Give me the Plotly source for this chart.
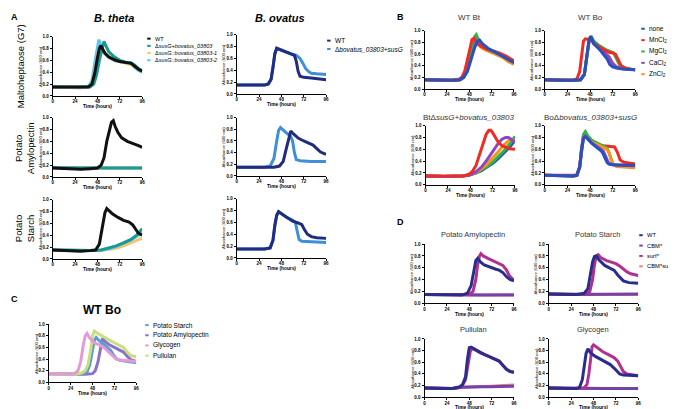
import plotly.graph_objects as go

W, H = 676, 409
FONT = "Liberation Sans, Arial, sans-serif"

# ---------------- colours ----------------
C_BLACK = "#111111"
C_TEAL = "#1a9a96"
C_LORANGE = "#f6c46e"
C_LBLUE = "#5cc6f0"
C_NAVY = "#1f2c80"
C_MBLUE = "#3f8fd8"
C_NONE = "#2a50c0"
C_MN = "#ee2b24"
C_MG = "#2db34a"
C_CA = "#8d45c6"
C_ZN = "#f7941d"
C_PS = "#5e9bd6"
C_PA = "#8a72c9"
C_GLY = "#e39bd5"
C_PUL = "#c8e07a"
C_DWT = "#2b2d8c"
C_CBM = "#7442a8"
C_SURF = "#b2318f"
C_CBMS = "#f07c7c"

# ---------------- data: panel A, B. theta ----------------
a1_lb_t = [0, 20, 30, 38, 42, 45, 48, 49.5, 51, 54, 60, 68, 76, 84, 88, 92, 96]
a1_lb_y = [0.15, 0.14, 0.14, 0.16, 0.25, 0.55, 0.85, 0.95, 0.88, 0.75, 0.65, 0.59, 0.57, 0.55, 0.48, 0.43, 0.40]
a1_or_t = [0, 20, 30, 40, 43, 46, 49, 51, 53, 56, 62, 70, 78, 86, 92, 96]
a1_or_y = [0.15, 0.14, 0.14, 0.16, 0.25, 0.50, 0.75, 0.83, 0.80, 0.73, 0.64, 0.59, 0.56, 0.52, 0.46, 0.43]
a1_te_t = [0, 10, 20, 30, 40, 44, 47, 50, 53, 55, 57, 60, 66, 72, 78, 84, 88, 92, 96]
a1_te_y = [0.15, 0.15, 0.14, 0.14, 0.15, 0.20, 0.35, 0.60, 0.82, 0.92, 0.85, 0.75, 0.66, 0.60, 0.57, 0.56, 0.52, 0.46, 0.42]
a1_wt_t = [0, 10, 20, 30, 38, 42, 45, 48, 50, 51.5, 53, 56, 60, 66, 72, 78, 84, 88, 92, 96]
a1_wt_y = [0.15, 0.15, 0.14, 0.14, 0.15, 0.20, 0.38, 0.65, 0.80, 0.85, 0.80, 0.72, 0.66, 0.61, 0.58, 0.56, 0.55, 0.50, 0.45, 0.42]

a2_flat_t = [0, 20, 48, 72, 96]
a2_lb_y = [0.16, 0.15, 0.15, 0.15, 0.15]
a2_or_y = [0.15, 0.15, 0.15, 0.15, 0.15]
a2_te_y = [0.155, 0.15, 0.15, 0.15, 0.15]
a2_wt_t = [0, 10, 20, 30, 40, 48, 52, 55, 58, 61, 63, 65, 67, 70, 74, 80, 86, 92, 96]
a2_wt_y = [0.15, 0.14, 0.14, 0.13, 0.14, 0.15, 0.20, 0.32, 0.60, 0.82, 0.92, 0.95, 0.85, 0.75, 0.66, 0.60, 0.57, 0.53, 0.50]

a3_s_t = [0, 20, 40, 52, 60, 68, 76, 84, 90, 96]
a3_or_y = [0.15, 0.14, 0.14, 0.14, 0.16, 0.18, 0.22, 0.27, 0.31, 0.35]
a3_lb_y = [0.15, 0.14, 0.14, 0.15, 0.17, 0.21, 0.26, 0.32, 0.38, 0.44]
a3_te_y = [0.15, 0.14, 0.14, 0.15, 0.18, 0.22, 0.27, 0.33, 0.40, 0.51]
a3_wt_t = [0, 10, 20, 30, 40, 46, 50, 53, 56, 58, 60, 64, 70, 76, 82, 86, 89, 92, 96]
a3_wt_y = [0.15, 0.14, 0.14, 0.13, 0.14, 0.15, 0.25, 0.50, 0.78, 0.85, 0.82, 0.76, 0.70, 0.65, 0.62, 0.57, 0.50, 0.43, 0.40]

# ---------------- data: panel A, B. ovatus ----------------
a4_mu_t = [0, 10, 20, 30, 34, 37, 39, 41, 43, 46, 52, 58, 64, 68, 71, 74, 77, 80, 86, 96]
a4_mu_y = [0.15, 0.15, 0.15, 0.15, 0.17, 0.25, 0.45, 0.68, 0.77, 0.75, 0.72, 0.68, 0.65, 0.60, 0.52, 0.43, 0.38, 0.35, 0.34, 0.33]
a4_wt_t = [0, 10, 20, 30, 34, 37, 39, 41, 43, 46, 52, 58, 62, 64, 66, 68, 72, 80, 88, 96]
a4_wt_y = [0.15, 0.15, 0.15, 0.15, 0.17, 0.25, 0.45, 0.68, 0.77, 0.75, 0.72, 0.68, 0.65, 0.55, 0.38, 0.30, 0.28, 0.27, 0.25, 0.24]

a5_mu_t = [0, 10, 20, 30, 36, 40, 43, 45, 47, 50, 54, 58, 60, 62, 64, 68, 80, 96]
a5_mu_y = [0.15, 0.15, 0.15, 0.15, 0.17, 0.30, 0.60, 0.78, 0.83, 0.78, 0.73, 0.68, 0.60, 0.40, 0.28, 0.26, 0.25, 0.25]
a5_wt_t = [0, 10, 20, 30, 40, 46, 50, 53, 56, 58, 61, 66, 72, 78, 82, 86, 90, 96]
a5_wt_y = [0.15, 0.15, 0.15, 0.15, 0.15, 0.17, 0.25, 0.45, 0.68, 0.77, 0.72, 0.65, 0.60, 0.56, 0.53, 0.47, 0.41, 0.37]

a6_mu_t = [0, 10, 20, 30, 36, 39, 41, 43, 45, 48, 54, 60, 63, 65, 67, 70, 80, 96]
a6_mu_y = [0.15, 0.15, 0.15, 0.15, 0.17, 0.30, 0.55, 0.72, 0.78, 0.75, 0.68, 0.64, 0.60, 0.45, 0.31, 0.28, 0.27, 0.26]
a6_wt_t = [0, 10, 20, 30, 36, 39, 41, 43, 45, 48, 54, 60, 66, 70, 73, 76, 80, 86, 96]
a6_wt_y = [0.15, 0.15, 0.15, 0.15, 0.17, 0.30, 0.55, 0.72, 0.78, 0.75, 0.68, 0.62, 0.59, 0.56, 0.47, 0.40, 0.36, 0.34, 0.33]

# ---------------- data: panel B ----------------
b1_zn_t = [0, 20, 30, 38, 42, 45, 48, 51, 54, 57, 62, 68, 76, 84, 90, 96]
b1_zn_y = [0.16, 0.15, 0.15, 0.16, 0.22, 0.35, 0.55, 0.75, 0.80, 0.77, 0.70, 0.65, 0.60, 0.54, 0.47, 0.42]
b1_ca_t = [0, 20, 30, 38, 42, 46, 50, 53, 56, 58, 62, 68, 76, 84, 90, 96]
b1_ca_y = [0.16, 0.15, 0.15, 0.16, 0.20, 0.35, 0.60, 0.78, 0.84, 0.82, 0.75, 0.69, 0.63, 0.57, 0.52, 0.48]
b1_mg_t = [0, 10, 20, 30, 38, 42, 45, 48, 51, 54, 55.5, 58, 62, 68, 74, 80, 88, 96]
b1_mg_y = [0.16, 0.15, 0.15, 0.15, 0.16, 0.20, 0.30, 0.50, 0.75, 0.90, 0.93, 0.83, 0.74, 0.68, 0.64, 0.61, 0.55, 0.47]
b1_mn_t = [0, 10, 20, 30, 36, 40, 43, 46, 49, 51, 53, 56, 60, 66, 72, 80, 88, 96]
b1_mn_y = [0.16, 0.15, 0.15, 0.15, 0.16, 0.20, 0.30, 0.50, 0.75, 0.85, 0.87, 0.80, 0.74, 0.69, 0.66, 0.62, 0.56, 0.48]
b1_no_t = [0, 20, 30, 38, 42, 46, 50, 54, 57, 59, 62, 68, 76, 84, 90, 96]
b1_no_y = [0.16, 0.15, 0.15, 0.16, 0.20, 0.30, 0.50, 0.72, 0.82, 0.84, 0.78, 0.70, 0.63, 0.56, 0.50, 0.45]

b2_zn_t = [0, 20, 30, 38, 42, 45, 47, 49, 52, 58, 64, 68, 72, 76, 80, 88, 96]
b2_zn_y = [0.16, 0.15, 0.15, 0.16, 0.25, 0.60, 0.82, 0.86, 0.78, 0.70, 0.62, 0.56, 0.45, 0.38, 0.36, 0.34, 0.33]
b2_ca_t = [0, 20, 30, 38, 42, 45, 47, 49, 52, 58, 64, 68, 72, 76, 80, 88, 96]
b2_ca_y = [0.16, 0.15, 0.15, 0.16, 0.25, 0.60, 0.82, 0.88, 0.78, 0.70, 0.61, 0.55, 0.43, 0.38, 0.36, 0.34, 0.33]
b2_mg_t = [0, 10, 20, 30, 38, 42, 45, 47, 49, 52, 58, 64, 70, 73, 76, 79, 84, 90, 96]
b2_mg_y = [0.16, 0.15, 0.15, 0.15, 0.16, 0.25, 0.60, 0.85, 0.91, 0.82, 0.74, 0.68, 0.64, 0.62, 0.52, 0.42, 0.37, 0.34, 0.33]
b2_mn_t = [0, 10, 20, 30, 34, 37, 39, 41, 43, 46, 48, 52, 58, 64, 68, 72, 75, 78, 81, 85, 90, 96]
b2_mn_y = [0.16, 0.15, 0.15, 0.15, 0.17, 0.30, 0.60, 0.82, 0.86, 0.85, 0.88, 0.78, 0.72, 0.66, 0.63, 0.62, 0.60, 0.50, 0.40, 0.36, 0.34, 0.33]
b2_no_t = [0, 10, 20, 30, 38, 42, 45, 47, 49, 52, 58, 62, 66, 69, 72, 76, 84, 96]
b2_no_y = [0.16, 0.15, 0.15, 0.15, 0.16, 0.25, 0.60, 0.85, 0.90, 0.78, 0.68, 0.60, 0.52, 0.42, 0.38, 0.36, 0.34, 0.33]

b3_mn_t = [0, 10, 20, 30, 40, 46, 50, 54, 58, 62, 65, 68, 70, 72, 75, 78, 82, 86, 90, 96]
b3_mn_y = [0.15, 0.15, 0.14, 0.14, 0.15, 0.17, 0.22, 0.32, 0.50, 0.70, 0.85, 0.92, 0.92, 0.88, 0.80, 0.72, 0.66, 0.63, 0.61, 0.60]
b3_ca_t = [0, 20, 40, 48, 54, 60, 66, 72, 78, 82, 86, 89, 92, 96]
b3_ca_y = [0.15, 0.14, 0.15, 0.17, 0.22, 0.30, 0.42, 0.56, 0.70, 0.77, 0.80, 0.80, 0.77, 0.72]
b3_zn_t = [0, 20, 40, 48, 54, 60, 66, 72, 78, 84, 88, 92, 96]
b3_zn_y = [0.15, 0.14, 0.15, 0.17, 0.21, 0.27, 0.35, 0.45, 0.56, 0.67, 0.73, 0.77, 0.74]
b3_s_t = [0, 20, 40, 48, 54, 60, 66, 72, 78, 84, 90, 96]
b3_mg_y = [0.15, 0.14, 0.15, 0.17, 0.20, 0.25, 0.31, 0.38, 0.47, 0.57, 0.68, 0.82]
b3_no_y = [0.15, 0.14, 0.15, 0.17, 0.20, 0.24, 0.30, 0.36, 0.44, 0.53, 0.63, 0.75]

b4_mn_t = [0, 10, 20, 30, 34, 37, 39, 41, 43, 46, 50, 56, 62, 66, 70, 74, 77, 80, 84, 90, 96]
b4_mn_y = [0.16, 0.16, 0.15, 0.15, 0.16, 0.30, 0.60, 0.80, 0.83, 0.77, 0.72, 0.68, 0.66, 0.65, 0.65, 0.64, 0.55, 0.42, 0.38, 0.36, 0.35]
b4_mg_t = [0, 20, 30, 34, 37, 39, 41, 43, 46, 50, 56, 62, 66, 68, 70, 72, 76, 84, 96]
b4_mg_y = [0.16, 0.15, 0.15, 0.16, 0.30, 0.62, 0.85, 0.90, 0.82, 0.75, 0.70, 0.66, 0.62, 0.55, 0.45, 0.36, 0.33, 0.31, 0.30]
b4_zn_t = [0, 20, 30, 34, 37, 39, 41, 43, 46, 50, 56, 62, 66, 68, 70, 72, 76, 84, 96]
b4_zn_y = [0.16, 0.15, 0.15, 0.16, 0.30, 0.60, 0.80, 0.83, 0.77, 0.72, 0.67, 0.63, 0.60, 0.55, 0.45, 0.35, 0.31, 0.30, 0.29]
b4_ca_t = [0, 20, 30, 34, 37, 39, 41, 43, 46, 50, 56, 62, 64, 66, 68, 72, 84, 96]
b4_ca_y = [0.16, 0.15, 0.15, 0.16, 0.30, 0.60, 0.80, 0.82, 0.76, 0.70, 0.64, 0.57, 0.50, 0.42, 0.36, 0.34, 0.33, 0.32]
b4_no_t = [0, 20, 30, 34, 37, 39, 41, 43, 46, 50, 56, 60, 62, 64, 66, 68, 72, 84, 96]
b4_no_y = [0.16, 0.15, 0.15, 0.16, 0.30, 0.58, 0.78, 0.82, 0.76, 0.70, 0.62, 0.57, 0.52, 0.45, 0.38, 0.35, 0.34, 0.33, 0.33]

# ---------------- data: panel C ----------------
c_gly_t = [0, 10, 20, 28, 32, 35, 38, 40, 42, 45, 50, 56, 62, 66, 70, 74, 80, 88, 96]
c_gly_y = [0.15, 0.15, 0.14, 0.15, 0.20, 0.35, 0.65, 0.80, 0.84, 0.76, 0.68, 0.64, 0.58, 0.52, 0.45, 0.40, 0.38, 0.37, 0.36]
c_pul_t = [0, 20, 30, 36, 40, 43, 46, 48, 50, 54, 60, 66, 72, 78, 82, 86, 90, 96]
c_pul_y = [0.15, 0.14, 0.14, 0.16, 0.20, 0.30, 0.55, 0.80, 0.88, 0.84, 0.78, 0.73, 0.68, 0.64, 0.60, 0.52, 0.46, 0.44]
c_ps_t = [0, 20, 30, 38, 42, 45, 48, 50, 52, 55, 60, 65, 68, 71, 74, 78, 84, 90, 96]
c_ps_y = [0.15, 0.14, 0.14, 0.15, 0.18, 0.30, 0.55, 0.72, 0.77, 0.72, 0.66, 0.60, 0.55, 0.47, 0.41, 0.38, 0.36, 0.35, 0.34]
c_pa_t = [0, 20, 30, 40, 48, 51, 54, 57, 59, 62, 66, 72, 78, 82, 86, 90, 96]
c_pa_y = [0.15, 0.14, 0.14, 0.14, 0.15, 0.20, 0.35, 0.60, 0.76, 0.70, 0.65, 0.60, 0.56, 0.52, 0.45, 0.39, 0.36]

# ---------------- data: panel D ----------------
d_flat_t = [0, 30, 60, 96]
d1_cbm_y = [0.15, 0.14, 0.14, 0.14]
d1_cbms_y = [0.15, 0.14, 0.14, 0.145]
d1_surf_t = [0, 20, 40, 48, 52, 55, 57, 59, 60.5, 63, 68, 74, 80, 84, 88, 91, 94, 96]
d1_surf_y = [0.15, 0.15, 0.14, 0.15, 0.20, 0.40, 0.65, 0.80, 0.84, 0.80, 0.76, 0.72, 0.68, 0.64, 0.56, 0.47, 0.42, 0.40]
d1_wt_t = [0, 10, 20, 30, 40, 46, 50, 53, 55, 57, 60, 64, 70, 76, 80, 84, 88, 92, 96]
d1_wt_y = [0.15, 0.15, 0.15, 0.14, 0.14, 0.17, 0.30, 0.55, 0.72, 0.76, 0.70, 0.65, 0.61, 0.58, 0.56, 0.52, 0.45, 0.40, 0.38]

d2_cbm_y = [0.16, 0.15, 0.155, 0.16]
d2_cbms_y = [0.16, 0.15, 0.15, 0.15]
d2_surf_t = [0, 20, 38, 44, 47, 49, 51, 53, 56, 62, 68, 72, 76, 80, 84, 88, 92, 96]
d2_surf_y = [0.16, 0.15, 0.15, 0.20, 0.40, 0.65, 0.80, 0.82, 0.77, 0.72, 0.69, 0.67, 0.63, 0.58, 0.53, 0.50, 0.48, 0.47]
d2_wt_t = [0, 10, 20, 30, 38, 42, 45, 47, 49, 51, 54, 60, 66, 70, 74, 77, 80, 86, 96]
d2_wt_y = [0.16, 0.15, 0.15, 0.15, 0.17, 0.25, 0.50, 0.70, 0.79, 0.80, 0.73, 0.64, 0.59, 0.56, 0.48, 0.42, 0.38, 0.35, 0.34]

d3_c_t = [0, 20, 30, 40, 50, 60, 72, 84, 96]
d3_cbm_y = [0.16, 0.15, 0.15, 0.17, 0.18, 0.18, 0.18, 0.18, 0.19]
d3_cbms_y = [0.16, 0.15, 0.15, 0.17, 0.18, 0.19, 0.19, 0.20, 0.21]
d3_surf_t = [0, 20, 30, 36, 40, 44, 47, 49, 51, 54, 60, 66, 72, 76, 80, 84, 88, 92, 96]
d3_surf_y = [0.16, 0.15, 0.15, 0.16, 0.19, 0.30, 0.55, 0.78, 0.84, 0.81, 0.76, 0.72, 0.68, 0.65, 0.62, 0.55, 0.48, 0.44, 0.43]
d3_wt_t = [0, 10, 20, 30, 34, 38, 41, 44, 46, 48, 50, 54, 60, 66, 72, 76, 80, 84, 88, 92, 96]
d3_wt_y = [0.16, 0.15, 0.15, 0.15, 0.16, 0.18, 0.22, 0.35, 0.65, 0.85, 0.86, 0.82, 0.77, 0.72, 0.68, 0.65, 0.62, 0.55, 0.48, 0.44, 0.43]

d4_cbm_y = [0.16, 0.15, 0.15, 0.15]
d4_cbms_y = [0.16, 0.15, 0.15, 0.15]
d4_surf_t = [0, 20, 30, 38, 41, 43, 45, 46.5, 48, 52, 58, 64, 70, 74, 77, 80, 84, 90, 96]
d4_surf_y = [0.16, 0.15, 0.15, 0.16, 0.22, 0.40, 0.70, 0.87, 0.90, 0.85, 0.78, 0.73, 0.68, 0.62, 0.52, 0.44, 0.40, 0.38, 0.37]
d4_wt_t = [0, 10, 20, 30, 33, 36, 38, 40, 42, 45, 50, 56, 62, 66, 70, 73, 76, 80, 88, 96]
d4_wt_y = [0.16, 0.15, 0.15, 0.15, 0.17, 0.30, 0.55, 0.75, 0.83, 0.76, 0.70, 0.65, 0.60, 0.56, 0.50, 0.44, 0.40, 0.38, 0.37, 0.37]

# tick labels
x_ticks = [0, 24, 48, 72, 96]
y_ticks = [0.0, 0.2, 0.4, 0.6, 0.8, 1.0]

# ---------------- layout geometry (pixels) ----------------
# panel: (left, right, top(=1.0), bottom(=0.0))
panels = {
    1: (44, 134, 27, 87), 2: (44, 134, 109, 169), 3: (44, 134, 192, 252),
    4: (229, 319, 25, 85), 5: (229, 319, 109, 168), 6: (229, 319, 191, 251),
    7: (418, 508, 21, 80), 8: (539, 630, 21, 80),
    9: (419, 509, 117, 177), 10: (539, 630, 117, 177),
    11: (40, 128, 318, 377),
    12: (418, 508, 237, 297), 13: (543, 633, 237, 297),
    14: (418, 508, 333, 392), 15: (543, 633, 333, 392),
}

traces = {
    1: [(a1_lb_t, a1_lb_y, C_LBLUE), (a1_or_t, a1_or_y, C_LORANGE), (a1_te_t, a1_te_y, C_TEAL), (a1_wt_t, a1_wt_y, C_BLACK)],
    2: [(a2_flat_t, a2_lb_y, C_LBLUE), (a2_flat_t, a2_or_y, C_LORANGE), (a2_flat_t, a2_te_y, C_TEAL), (a2_wt_t, a2_wt_y, C_BLACK)],
    3: [(a3_s_t, a3_or_y, C_LORANGE), (a3_s_t, a3_lb_y, C_LBLUE), (a3_s_t, a3_te_y, C_TEAL), (a3_wt_t, a3_wt_y, C_BLACK)],
    4: [(a4_mu_t, a4_mu_y, C_MBLUE), (a4_wt_t, a4_wt_y, C_NAVY)],
    5: [(a5_mu_t, a5_mu_y, C_MBLUE), (a5_wt_t, a5_wt_y, C_NAVY)],
    6: [(a6_mu_t, a6_mu_y, C_MBLUE), (a6_wt_t, a6_wt_y, C_NAVY)],
    7: [(b1_zn_t, b1_zn_y, C_ZN), (b1_ca_t, b1_ca_y, C_CA), (b1_mg_t, b1_mg_y, C_MG), (b1_mn_t, b1_mn_y, C_MN), (b1_no_t, b1_no_y, C_NONE)],
    8: [(b2_zn_t, b2_zn_y, C_ZN), (b2_ca_t, b2_ca_y, C_CA), (b2_mg_t, b2_mg_y, C_MG), (b2_mn_t, b2_mn_y, C_MN), (b2_no_t, b2_no_y, C_NONE)],
    9: [(b3_s_t, b3_no_y, C_NONE), (b3_s_t, b3_mg_y, C_MG), (b3_zn_t, b3_zn_y, C_ZN), (b3_ca_t, b3_ca_y, C_CA), (b3_mn_t, b3_mn_y, C_MN)],
    10: [(b4_mn_t, b4_mn_y, C_MN), (b4_mg_t, b4_mg_y, C_MG), (b4_zn_t, b4_zn_y, C_ZN), (b4_ca_t, b4_ca_y, C_CA), (b4_no_t, b4_no_y, C_NONE)],
    11: [(c_pa_t, c_pa_y, C_PA), (c_ps_t, c_ps_y, C_PS), (c_pul_t, c_pul_y, C_PUL), (c_gly_t, c_gly_y, C_GLY)],
    12: [(d_flat_t, d1_cbms_y, C_CBMS), (d_flat_t, d1_cbm_y, C_CBM), (d1_surf_t, d1_surf_y, C_SURF), (d1_wt_t, d1_wt_y, C_DWT)],
    13: [(d_flat_t, d2_cbms_y, C_CBMS), (d_flat_t, d2_cbm_y, C_CBM), (d2_surf_t, d2_surf_y, C_SURF), (d2_wt_t, d2_wt_y, C_DWT)],
    14: [(d3_c_t, d3_cbms_y, C_CBMS), (d3_c_t, d3_cbm_y, C_CBM), (d3_surf_t, d3_surf_y, C_SURF), (d3_wt_t, d3_wt_y, C_DWT)],
    15: [(d_flat_t, d4_cbms_y, C_CBMS), (d_flat_t, d4_cbm_y, C_CBM), (d4_surf_t, d4_surf_y, C_SURF), (d4_wt_t, d4_wt_y, C_DWT)],
}


def X(px):
    return px / W


def Y(py):
    return 1 - py / H


ann = []
shapes = []


def text(x, y, s, size, bold=False, italic=False, color="black", angle=0, xanchor="center", yanchor="middle"):
    ann.append(dict(x=X(x), y=Y(y), xref="paper", yref="paper", text=s, showarrow=False,
                    xanchor=xanchor, yanchor=yanchor, textangle=angle, borderpad=0,
                    font=dict(size=size, family=FONT, color=color,
                              weight="bold" if bold else "normal",
                              style="italic" if italic else "normal")))


fig = go.Figure()
layout = {}
for i, (l, r, t, b) in panels.items():
    sfx = "" if i == 1 else str(i)
    for tx, ty, col in traces[i]:
        fig.add_trace(go.Scatter(x=tx, y=ty, mode="lines", xaxis="x" + sfx, yaxis="y" + sfx,
                                 line=dict(color=col, width=3), hoverinfo="skip", showlegend=False))
    layout["xaxis" + sfx] = dict(
        domain=[X(l), X(r)], anchor="y" + sfx, range=[0, 96], tickvals=x_ticks,
        showline=True, linecolor="black", linewidth=1, ticks="outside", ticklen=2, tickwidth=0.8,
        tickcolor="black", showgrid=False, zeroline=False, ticklabelstandoff=-1,
        tickfont=dict(size=4.5, family=FONT, color="black", weight="bold"),
    )
    layout["yaxis" + sfx] = dict(
        domain=[Y(b), Y(t)], anchor="x" + sfx, range=[0, 1.0], tickvals=y_ticks, tickformat=".1f",
        showline=True, linecolor="black", linewidth=1, ticks="outside", ticklen=2, tickwidth=0.8,
        tickcolor="black", showgrid=False, zeroline=False,
        tickfont=dict(size=4.5, family=FONT, color="black", weight="bold"),
    )
    # axis titles
    text((l + r) / 2, min(b + 11, 402), "Time (hours)", 4.8, bold=True)
    text(l - 13, (t + b) / 2, "Absorbance (600 nm)", 4.2, angle=-90)


def legend(x, y0, dy, items, size):
    for k, (lab, col) in enumerate(items):
        yy = y0 + k * dy
        shapes.append(dict(type="line", xref="paper", yref="paper", x0=X(x), x1=X(x + 3.5),
                           y0=Y(yy), y1=Y(yy), line=dict(color=col, width=2)))
        text(x + 6.5, yy, lab, size, xanchor="left")


# panel letters & headings
text(6, 7, "A", 9, bold=True)
text(394, 7, "B", 9, bold=True)
text(6, 293, "C", 9, bold=True)
text(394, 215, "D", 9, bold=True)
text(106, 8, "B. theta", 11, bold=True, italic=True)
text(273, 8, "B. ovatus", 11, bold=True, italic=True)
text(11, 57, "Maltoheptaose (G7)", 9.5, angle=-90)
text(15, 140, "Potato<br>Amylopectin", 9.5, angle=-90)
text(15, 221, "Potato<br>Starch", 9.5, angle=-90)

# panel B titles
text(463, 8, "WT Bt", 8, color="#333333")
text(585, 8, "WT Bo", 8, color="#333333")
text(463, 109, "Bt\u0394<i>susG+bovatus_03803</i>", 8, color="#333333")
text(585, 109, "Bo\u0394<i>bovatus_03803+susG</i>", 8, color="#333333")

# panel C title
text(94, 304, "WT Bo", 12, bold=True)

# panel D titles
text(467, 227, "Potato Amylopectin", 7.5, color="#333333")
text(592, 227, "Potato Starch", 7.5, color="#333333")
text(467, 323, "Pullulan", 7.5, color="#333333")
text(587, 323, "Glycogen", 7.5, color="#333333")

# legends
legend(139, 29, 7.3, [("WT", C_BLACK), ("\u0394<i>susG+bovatus_03803</i>", C_TEAL),
                      ("\u0394<i>susG::bovatus_03803-1</i>", C_LORANGE),
                      ("\u0394<i>susG::bovatus_03803-2</i>", C_LBLUE)], 5.5)
legend(320, 31, 8.5, [("WT", C_NAVY), ("\u0394<i>bovatus_03803+susG</i>", C_MBLUE)], 6.5)
legend(636, 19, 11.5, [("none", C_NONE), ("MnCl<sub>2</sub>", C_MN), ("MgCl<sub>2</sub>", C_MG),
                       ("CaCl<sub>2</sub>", C_CA), ("ZnCl<sub>2</sub>", C_ZN)], 6.5)
legend(137, 319, 10.3, [("Potato Starch", C_PS), ("Potato Amylopectin", C_PA),
                        ("Glycogen", C_GLY), ("Pullulan", C_PUL)], 6.5)
legend(634, 228, 10.5, [("WT", C_DWT), ("CBM*", C_CBM), ("surf*", C_SURF), ("CBM*surf*", C_CBMS)], 5.8)

fig.update_layout(width=W, height=H, margin=dict(l=0, r=0, t=0, b=0),
                  paper_bgcolor="white", plot_bgcolor="white", showlegend=False,
                  annotations=ann, shapes=shapes, **layout)
fig.write_html("out.html")
